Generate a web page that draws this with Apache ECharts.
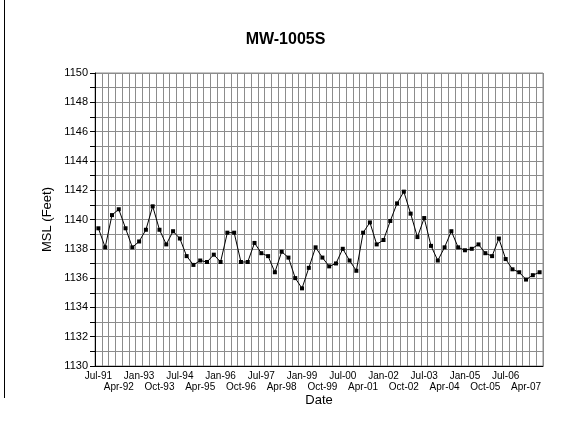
<!DOCTYPE html>
<html>
<head>
<meta charset="utf-8">
<script src="https://cdn.jsdelivr.net/npm/echarts@6/dist/echarts.min.js"></script>
<style>
  html, body { margin: 0; padding: 0; background: #fff; }
  #chart { width: 571px; height: 444px; }
</style>
</head>
<body>
<div id="chart"></div>
<script>
// quarterly sampling dates
const quarters = [
  "Jul-91", "Oct-91",
  "Jan-92", "Apr-92", "Jul-92", "Oct-92",
  "Jan-93", "Apr-93", "Jul-93", "Oct-93",
  "Jan-94", "Apr-94", "Jul-94", "Oct-94",
  "Jan-95", "Apr-95", "Jul-95", "Oct-95",
  "Jan-96", "Apr-96", "Jul-96", "Oct-96",
  "Jan-97", "Apr-97", "Jul-97", "Oct-97",
  "Jan-98", "Apr-98", "Jul-98", "Oct-98",
  "Jan-99", "Apr-99", "Jul-99", "Oct-99",
  "Jan-00", "Apr-00", "Jul-00", "Oct-00",
  "Jan-01", "Apr-01", "Jul-01", "Oct-01",
  "Jan-02", "Apr-02", "Jul-02", "Oct-02",
  "Jan-03", "Apr-03", "Jul-03", "Oct-03",
  "Jan-04", "Apr-04", "Jul-04", "Oct-04",
  "Jan-05", "Apr-05", "Jul-05", "Oct-05",
  "Jan-06", "Apr-06", "Jul-06", "Oct-06",
  "Jan-07", "Apr-07", "Jul-07", "Oct-07",
];

// water level (MSL, feet)
const levels = [
  1139.4, 1138.1, 1140.3, 1140.7, 1139.4, 1138.1, 1138.5, 1139.3, 1140.9, 1139.3,
  1138.3, 1139.2, 1138.7, 1137.5, 1136.9, 1137.2, 1137.1, 1137.6, 1137.1, 1139.1,
  1139.1, 1137.1, 1137.1, 1138.4, 1137.7, 1137.5, 1136.4, 1137.8, 1137.4, 1136.0,
  1135.3, 1136.7, 1138.1, 1137.4, 1136.8, 1137.0, 1138.0, 1137.2, 1136.5, 1139.1,
  1139.8, 1138.3, 1138.6, 1139.9, 1141.1, 1141.9, 1140.4, 1138.8, 1140.1, 1138.2,
  1137.2, 1138.1, 1139.2, 1138.1, 1137.9, 1138.0, 1138.3, 1137.7, 1137.5, 1138.7,
  1137.3, 1136.6, 1136.4, 1135.9, 1136.2, 1136.4,
];

const yMin = 1130;
const yMax = 1150;
const yStep = 2;
const lastLabel = "Apr-07";

const font = "Liberation Sans, Arial, sans-serif";
const gridColor = "#8c8c8c";
const lastIdx = quarters.indexOf(lastLabel);

// labels alternate between two rows, one every 3 quarters
const labelStyle = {
  showMinLabel: true,
  showMaxLabel: true,
  hideOverlap: false,
  color: "#000",
  fontFamily: font,
  fontSize: 10,
};

const chart = echarts.init(document.getElementById("chart"));
chart.setOption({
  animation: false,
  title: {
    text: "MW-1005S",
    left: "center",
    top: 27,
    textStyle: {
      color: "#000",
      fontFamily: font,
      fontSize: 16,
      fontWeight: "bold",
    },
  },
  grid: {
    left: 95,
    right: 28,
    top: 73,
    bottom: 78,
    show: true,
    borderColor: gridColor,
    borderWidth: 1,
  },
  xAxis: [
    {
      type: "category",
      data: quarters,
      boundaryGap: true,
      name: "Date",
      nameLocation: "middle",
      nameGap: 28,
      nameTextStyle: { color: "#000", fontFamily: font, fontSize: 13 },
      axisLine: { lineStyle: { color: "#000" } },
      axisTick: { interval: 0, length: 4, lineStyle: { color: "#000" } },
      axisLabel: Object.assign({}, labelStyle, {
        interval: (idx) => idx % 6 === 0 && idx <= lastIdx,
        margin: 5,
      }),
      splitLine: {
        show: true,
        interval: 0,
        lineStyle: { color: gridColor, width: 1 },
      },
    },
    {
      type: "category",
      data: quarters,
      boundaryGap: true,
      position: "bottom",
      axisLine: { show: false },
      axisTick: { show: false },
      splitLine: { show: false },
      axisLabel: Object.assign({}, labelStyle, {
        interval: (idx) => idx % 6 === 3 && idx <= lastIdx,
        margin: 16,
      }),
    },
  ],
  yAxis: {
    type: "value",
    min: yMin,
    max: yMax,
    interval: yStep,
    name: "MSL (Feet)",
    nameLocation: "middle",
    nameGap: 40,
    nameTextStyle: { color: "#000", fontFamily: font, fontSize: 13 },
    axisLine: { show: true, lineStyle: { color: "#000" } },
    axisTick: { show: true, length: 5, lineStyle: { color: "#000" } },
    minorTick: { show: true, splitNumber: 2, length: 5, lineStyle: { color: "#000" } },
    axisLabel: {
      color: "#000",
      fontFamily: font,
      fontSize: 11,
      margin: 7,
      formatter: (v) => String(v),
    },
    splitLine: { lineStyle: { color: gridColor, width: 1 } },
    minorSplitLine: { show: true, lineStyle: { color: gridColor, width: 1 } },
  },
  graphic: [
    {
      type: "line",
      shape: { x1: 4.5, y1: 0, x2: 4.5, y2: 398 },
      style: { stroke: "#000", lineWidth: 1 },
    },
  ],
  series: [
    {
      type: "line",
      data: levels,
      xAxisIndex: 0,
      symbol: "rect",
      symbolSize: 4,
      lineStyle: { color: "#000", width: 1 },
      itemStyle: { color: "#000" },
    },
  ],
});
</script>
</body>
</html>
